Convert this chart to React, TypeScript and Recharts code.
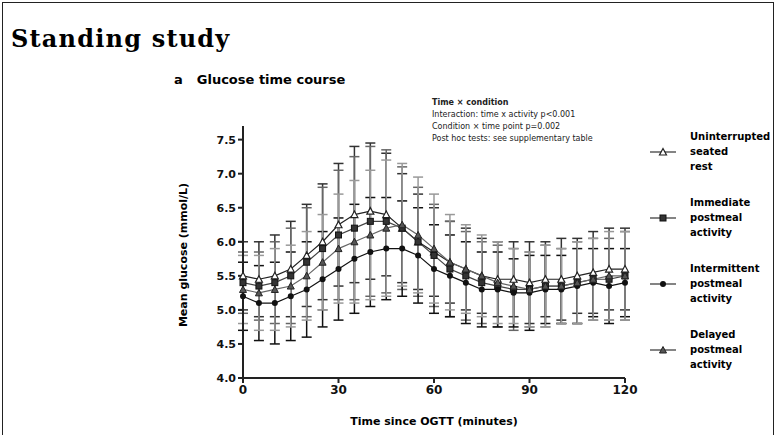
import React from 'react';
import { LineChart, Line, XAxis, YAxis, ErrorBar } from 'recharts';

const times = [0, 5, 10, 15, 20, 25, 30, 35, 40, 45, 50, 55, 60, 65, 70, 75, 80, 85, 90, 95, 100, 105, 110, 115, 120];

const seated = [5.5, 5.45, 5.5, 5.6, 5.8, 6.0, 6.25, 6.4, 6.45, 6.4, 6.2, 6.0, 5.85, 5.7, 5.6, 5.5, 5.45, 5.45, 5.4, 5.45, 5.45, 5.5, 5.55, 5.6, 5.6];
const seatedErr = [0.5, 0.55, 0.6, 0.7, 0.75, 0.85, 0.9, 1.0, 1.0, 0.9, 0.8, 0.7, 0.65, 0.6, 0.6, 0.55, 0.55, 0.55, 0.6, 0.55, 0.6, 0.55, 0.6, 0.6, 0.6];

const immediate = [5.4, 5.35, 5.4, 5.5, 5.7, 5.9, 6.1, 6.2, 6.3, 6.3, 6.2, 6.0, 5.8, 5.6, 5.5, 5.4, 5.35, 5.3, 5.3, 5.35, 5.35, 5.4, 5.45, 5.45, 5.5];
const immediateErr = [0.45, 0.5, 0.6, 0.7, 0.8, 0.9, 0.95, 1.05, 1.1, 1.05, 0.9, 0.8, 0.75, 0.7, 0.65, 0.6, 0.6, 0.6, 0.55, 0.6, 0.55, 0.6, 0.6, 0.6, 0.65];

const intermittent = [5.2, 5.1, 5.1, 5.2, 5.3, 5.45, 5.6, 5.75, 5.85, 5.9, 5.9, 5.8, 5.6, 5.5, 5.4, 5.3, 5.3, 5.25, 5.25, 5.3, 5.3, 5.35, 5.4, 5.35, 5.4];
const intermittentErr = [0.5, 0.55, 0.6, 0.65, 0.7, 0.7, 0.75, 0.8, 0.8, 0.75, 0.7, 0.7, 0.65, 0.6, 0.6, 0.55, 0.55, 0.5, 0.55, 0.5, 0.5, 0.55, 0.5, 0.55, 0.5];

const delayed = [5.3, 5.25, 5.3, 5.35, 5.5, 5.7, 5.9, 6.0, 6.1, 6.2, 6.25, 6.1, 5.9, 5.7, 5.6, 5.5, 5.4, 5.35, 5.3, 5.35, 5.35, 5.4, 5.45, 5.5, 5.5];
const delayedErr = [0.5, 0.55, 0.6, 0.6, 0.65, 0.7, 0.8, 0.9, 0.95, 1.0, 0.9, 0.85, 0.8, 0.7, 0.65, 0.6, 0.6, 0.55, 0.55, 0.6, 0.55, 0.6, 0.6, 0.65, 0.65];

const yTicks = [4.0, 4.5, 5.0, 5.5, 6.0, 6.5, 7.0, 7.5];
const xTicks = [0, 30, 60, 90, 120];

const legendLabels = [
  ['Uninterrupted', 'seated', 'rest'],
  ['Immediate', 'postmeal', 'activity'],
  ['Intermittent', 'postmeal', 'activity'],
  ['Delayed', 'postmeal', 'activity'],
];

const noteLines = [
  'Time × condition',
  'Interaction: time x activity p<0.001',
  'Condition × time point p=0.002',
  'Post hoc tests: see supplementary table',
];

const rows = times.map((t, i) => ({
  t,
  seated: seated[i], seatedErr: seatedErr[i],
  immediate: immediate[i], immediateErr: immediateErr[i],
  intermittent: intermittent[i], intermittentErr: intermittentErr[i],
  delayed: delayed[i], delayedErr: delayedErr[i],
}));

const font = '"DejaVu Sans", sans-serif';

function Marker({ kind, cx, cy }: { kind: number; cx: number; cy: number }) {
  if (kind === 0) {
    return <polygon points={`${cx},${cy - 3.5} ${cx + 3.5},${cy + 3} ${cx - 3.5},${cy + 3}`} fill="#fff" stroke="#222" strokeWidth={1.2} />;
  }
  if (kind === 1) {
    return <rect x={cx - 3} y={cy - 3} width={6} height={6} fill="#333" stroke="#111" />;
  }
  if (kind === 2) {
    return <circle cx={cx} cy={cy} r={3} fill="#111" />;
  }
  return <polygon points={`${cx},${cy - 3.5} ${cx + 3.5},${cy + 3} ${cx - 3.5},${cy + 3}`} fill="#555" stroke="#222" />;
}

const series = [
  { key: 'seated', err: 'seatedErr', color: '#222', bar: '#333' },
  { key: 'immediate', err: 'immediateErr', color: '#444', bar: '#666' },
  { key: 'intermittent', err: 'intermittentErr', color: '#111', bar: '#111' },
  { key: 'delayed', err: 'delayedErr', color: '#666', bar: '#999' },
];

export default function App() {
  return (
    <div style={{ position: 'fixed', left: 0, top: 0, width: 776, height: 435, background: '#fff', fontFamily: font, overflow: 'hidden' }}>
      <div style={{ position: 'absolute', left: 2, top: 2, width: 770, height: 440, border: '1.5px solid #222' }} />
      <div style={{ position: 'absolute', left: 11, top: 24, fontSize: 24, fontWeight: 'bold', fontFamily: '"DejaVu Serif", serif', letterSpacing: 1.2 }}>
        Standing study
      </div>
      <div style={{ position: 'absolute', left: 174, top: 72, fontSize: 13, fontWeight: 'bold' }}>
        <span style={{ marginRight: 14 }}>a</span>Glucose time course
      </div>
      <div style={{ position: 'absolute', left: 432, top: 97, fontSize: 8, lineHeight: '12px', color: '#222' }}>
        {noteLines.map((l, i) => (
          <div key={i} style={{ fontWeight: i === 0 ? 'bold' : 'normal' }}>{l}</div>
        ))}
      </div>
      <LineChart width={776} height={435} data={rows} margin={{ top: 126, right: 151, bottom: 27, left: 200 }}
        style={{ position: 'absolute', left: 0, top: 0 }}>
        <XAxis dataKey="t" type="number" domain={[0, 120]} ticks={xTicks} height={30}
          stroke="#222" strokeWidth={2} tickSize={5} tick={{ fill: '#111', fontSize: 12, fontWeight: 'bold', fontFamily: font }} />
        <YAxis type="number" domain={[4, 7.7]} ticks={yTicks} width={43} allowDataOverflow
          tickFormatter={(v: number) => v.toFixed(1)}
          stroke="#222" strokeWidth={2} tickSize={5} tick={{ fill: '#111', fontSize: 11, fontWeight: 'bold', fontFamily: font }} />
        {series.map((s, k) => (
          <Line key={s.key} dataKey={s.key} stroke={s.color} strokeWidth={1.2} isAnimationActive={false}
            dot={(p: any) => <Marker key={`${s.key}-${p.index}`} kind={k} cx={p.cx} cy={p.cy} />} activeDot={false}>
            <ErrorBar dataKey={s.err} width={5} stroke={s.bar} strokeWidth={1.5} direction="y" />
          </Line>
        ))}
      </LineChart>
      <div style={{ position: 'absolute', left: 183, top: 255, transform: 'translate(-50%, -50%) rotate(-90deg)', fontSize: 11, fontWeight: 'bold', whiteSpace: 'nowrap' }}>
        Mean glucose (mmol/L)
      </div>
      <div style={{ position: 'absolute', left: 434, top: 415, transform: 'translateX(-50%)', fontSize: 11, fontWeight: 'bold', whiteSpace: 'nowrap' }}>
        Time since OGTT (minutes)
      </div>
      {legendLabels.map((lines, i) => {
        const top = 129 + i * 66;
        return (
          <div key={i} style={{ position: 'absolute', left: 648, top }}>
            <svg width={30} height={14} style={{ position: 'absolute', left: 0, top: 16 }}>
              <line x1={2} y1={7} x2={28} y2={7} stroke="#333" strokeWidth={1.2} />
              <Marker kind={i} cx={15} cy={7} />
            </svg>
            <div style={{ position: 'absolute', left: 42, top: 0, fontSize: 10, lineHeight: '15px', fontWeight: 'bold', whiteSpace: 'nowrap' }}>
              {lines.map((l, j) => <div key={j}>{l}</div>)}
            </div>
          </div>
        );
      })}
    </div>
  );
}
